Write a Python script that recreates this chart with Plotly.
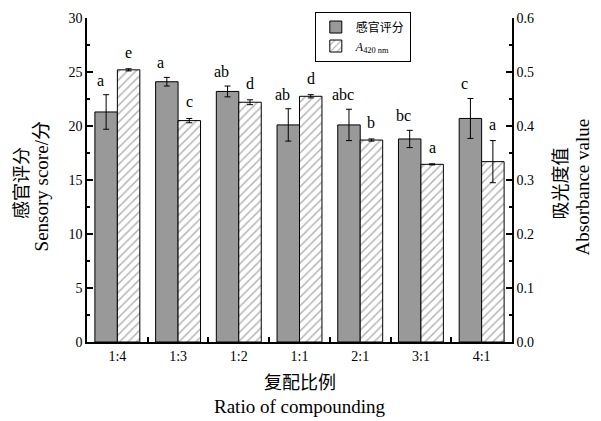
import plotly.graph_objects as go

categories = ["1:4", "1:3", "1:2", "1:1", "2:1", "3:1", "4:1"]
sensory = [21.3, 24.1, 23.2, 20.1, 20.1, 18.8, 20.7]
sensory_err = [1.6, 0.4, 0.5, 1.5, 1.45, 0.8, 1.85]
sensory_letters = ["a", "a", "ab", "ab", "abc", "bc", "c"]
absorb = [0.504, 0.410, 0.444, 0.455, 0.374, 0.329, 0.334]
absorb_err = [0.002, 0.004, 0.0045, 0.003, 0.002, 0.001, 0.039]
absorb_letters = ["e", "c", "d", "d", "b", "a", "a"]

SERIF = "Liberation Serif, Times New Roman, Noto Sans CJK SC, serif"
LATIN = "Liberation Serif, Times New Roman, serif"
CJK = "Noto Sans CJK SC, Liberation Serif, serif"
BW = 0.37

fig = go.Figure()
fig.add_trace(go.Bar(
    x=categories, y=sensory, name="感官评分", yaxis="y",
    width=BW, offset=-BW,
    marker=dict(color="#999999", line=dict(color="black", width=1)),
    error_y=dict(type="data", array=sensory_err, color="black", thickness=1, width=3),
))
fig.add_trace(go.Bar(
    x=categories, y=absorb, name="<i>A</i><sub>420 nm</sub>", yaxis="y2",
    width=BW, offset=0,
    marker=dict(color="white", line=dict(color="black", width=1),
                pattern=dict(shape="/", fgcolor="#6a6a6a", bgcolor="white", size=6, solidity=0.25)),
    error_y=dict(type="data", array=absorb_err, color="black", thickness=1, width=3),
))

ann = []
for i, (v, e, t) in enumerate(zip(sensory, sensory_err, sensory_letters)):
    ann.append(dict(x=i - BW / 2, y=v + e, xref="x", yref="y", text=t, showarrow=False,
                    yanchor="bottom", yshift=4, xshift=-6, font=dict(family=LATIN, size=16, color="black")))
for i, (v, e, t) in enumerate(zip(absorb, absorb_err, absorb_letters)):
    ann.append(dict(x=i + BW / 2, y=v + e, xref="x", yref="y2", text=t, showarrow=False,
                    yanchor="bottom", yshift=6, font=dict(family=LATIN, size=16, color="black")))

def title(x, y, text, family, size, angle=0):
    return dict(x=x, y=y, xref="paper", yref="paper", text=text, textangle=angle,
                showarrow=False, xanchor="center", yanchor="middle",
                font=dict(family=family, size=size, color="black"))

ann += [
    title(-0.158, 0.49, "感官评分", CJK, 18, -90),
    title(-0.106, 0.48, "Sensory score/分", SERIF, 19, -90),
    title(1.111, 0.49, "吸光度值", CJK, 18, -90),
    title(1.167, 0.48, "Absorbance value", LATIN, 19, -90),
    title(0.5, -0.119, "复配比例", CJK, 18),
    title(0.5, -0.199, "Ratio of compounding", LATIN, 19),
]

axis_common = dict(showline=True, linecolor="black", linewidth=1.5, ticks="inside",
                   tickcolor="black", tickwidth=1.5, showgrid=False, zeroline=False,
                   tickfont=dict(family=LATIN, size=14, color="black"))

fig.update_layout(
    width=601, height=421,
    margin=dict(l=87, r=89, t=15, b=79),
    paper_bgcolor="white", plot_bgcolor="white",
    barmode="overlay",
    showlegend=True,
    legend=dict(x=0.536, y=1.02, xanchor="left", yanchor="top", bordercolor="black",
                borderwidth=1, bgcolor="white", font=dict(family=SERIF, size=12, color="black"),
                tracegroupgap=0),
    xaxis=dict(type="category", tickson="boundaries", ticklen=5, **axis_common),
    yaxis=dict(range=[0, 30], dtick=5, ticklen=6,
               minor=dict(dtick=2.5, ticks="inside", ticklen=3, tickcolor="black", tickwidth=1.5),
               **axis_common),
    yaxis2=dict(range=[0, 0.6], dtick=0.1, tickformat=".1f", ticklen=6, overlaying="y", side="right",
                minor=dict(dtick=0.05, ticks="inside", ticklen=3, tickcolor="black", tickwidth=1.5),
                **axis_common),
    annotations=ann,
)

fig.write_html("out.html")
